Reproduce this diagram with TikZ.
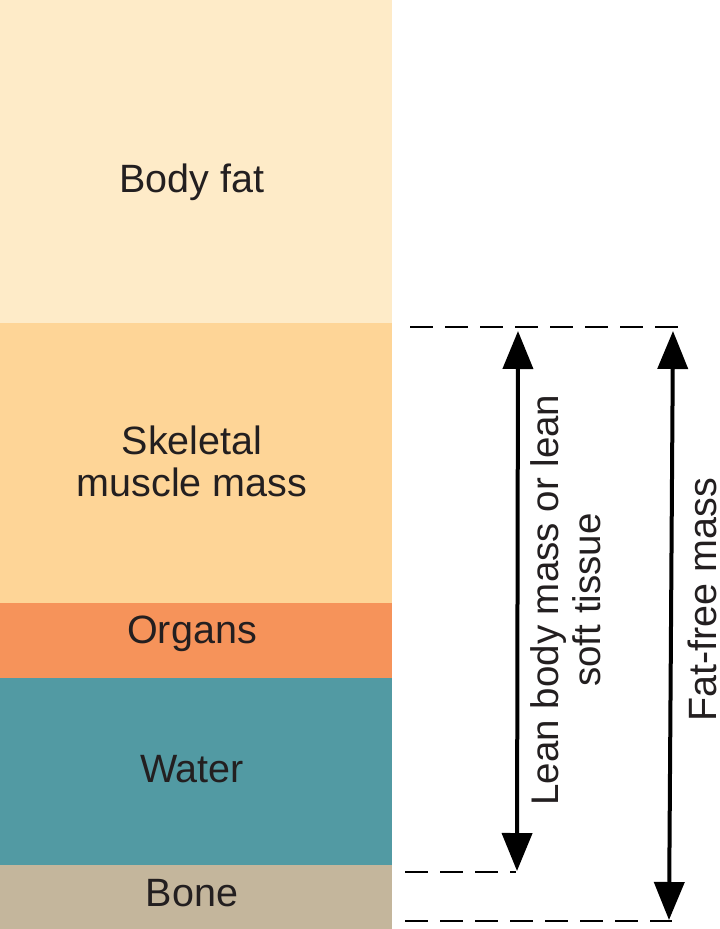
\documentclass[tikz,border=0pt]{standalone}
\usepackage{fontspec}
\setmainfont{Liberation Sans}
\usetikzlibrary{arrows.meta}
\definecolor{fatc}{HTML}{FEEBC8}
\definecolor{skelc}{HTML}{FED597}
\definecolor{orgc}{HTML}{F6935A}
\definecolor{waterc}{HTML}{529AA3}
\definecolor{bonec}{HTML}{C4B69C}
\definecolor{txt}{HTML}{231F20}
\begin{document}
\begin{tikzpicture}[x=1pt,y=-1pt,
  layer/.style={minimum width=392pt, inner sep=0pt, outer sep=0pt, anchor=north west, draw=none},
  lbl/.style={font=\fontsize{39.5}{42}\selectfont, text=txt, align=center},
  guide/.style={line width=2pt, dash pattern=on 23pt off 12pt},
  meas/.style={line width=4pt, {Triangle[length=38pt,width=30pt]}-{Triangle[length=38pt,width=30pt]}}]
\useasboundingbox (0,0) rectangle (720,929);
\node[layer, fill=fatc, minimum height=323pt] (fat) at (0,0) {};
\node[layer, fill=skelc, minimum height=280pt] (skel) at (0,323) {};
\node[layer, fill=orgc, minimum height=75pt] (org) at (0,603) {};
\node[layer, fill=waterc, minimum height=187pt] (water) at (0,678) {};
\node[layer, fill=bonec, minimum height=64pt] (bone) at (0,865) {};
\node[lbl] (tfat) at (192,182) {Body fat};
\node[lbl] (tskel) at (192,461) {Skeletal\\muscle mass};
\node[lbl] (torg) at (192,634) {Organs};
\node[lbl] (twater) at (192,769) {Water};
\node[lbl] (tbone) at (192,893) {Bone};
\coordinate (d1a) at (410,327);
\coordinate (d1b) at (680,327);
\coordinate (d2a) at (405,872);
\coordinate (d2b) at (516,872);
\coordinate (d3a) at (405,921);
\coordinate (d3b) at (672,921);
\draw[guide] (d1a) -- (d1b);
\draw[guide] (d2a) -- (d2b);
\draw[guide] (d3a) -- (d3b);
\coordinate (a1t) at (518,331);
\coordinate (a1b) at (517,871);
\coordinate (a2t) at (673,331);
\coordinate (a2b) at (669,920);
\draw[meas] (a1t) -- (a1b);
\draw[meas] (a2t) -- (a2b);
\node[lbl, font=\fontsize{38.5}{42}\selectfont, rotate=90] (tlean) at (566,600) {Lean body mass or lean\\soft tissue};
\node[lbl, rotate=90, inner sep=0pt] (tffm) at (702,600) {Fat-free mass};
\end{tikzpicture}
\end{document}
